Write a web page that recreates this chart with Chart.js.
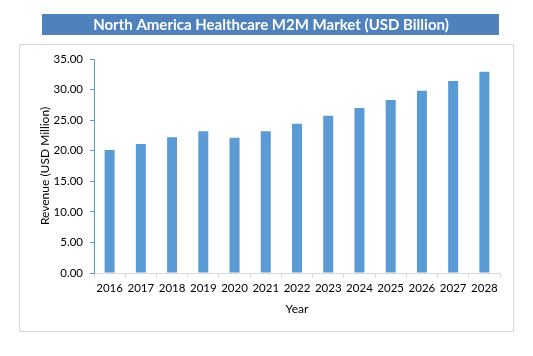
<!DOCTYPE html>
<html>
<head>
<meta charset="utf-8">
<script src="https://cdn.jsdelivr.net/npm/chart.js@4"></script>
<style>
html,body{margin:0;padding:0;background:#fff;}
#wrap{position:relative;width:533px;height:356px;}
</style>
</head>
<body>
<div id="wrap"><canvas id="c" width="533" height="356"></canvas></div>
<script>
const chartTitle = "North America Healthcare M2M Market (USD Billion)";
const years = ["2016","2017","2018","2019","2020","2021","2022","2023","2024","2025","2026","2027","2028"];
const revenue = [20.1, 21.1, 22.2, 23.2, 22.1, 23.2, 24.4, 25.7, 27.0, 28.3, 29.8, 31.4, 32.9];
const yTitle = "Revenue (USD Million)";
const xTitle = "Year";

const FONT = "Lato, 'Open Sans', sans-serif";

const framePlugin = {
  id: 'frame',
  beforeDraw(chart) {
    const ctx = chart.ctx;
    ctx.save();
    ctx.fillStyle = '#fff';
    ctx.fillRect(0, 0, chart.width, chart.height);
    // title box
    ctx.fillStyle = '#4f81bd';
    ctx.fillRect(42, 14, 457, 21);
    ctx.fillStyle = '#fff';
    ctx.font = "bold 15px " + FONT;
    ctx.textAlign = 'center';
    ctx.textBaseline = 'middle';
    ctx.fillText(chartTitle, 271, 25);
    // chart border
    ctx.strokeStyle = '#d9d9d9';
    ctx.lineWidth = 1;
    ctx.strokeRect(19.5, 44.5, 494, 287);
    ctx.restore();
  }
};

new Chart(document.getElementById('c'), {
  type: 'bar',
  data: {
    labels: years,
    datasets: [{
      data: revenue,
      backgroundColor: '#5b9bd5',
      borderWidth: 0,
      barPercentage: 0.32,
      categoryPercentage: 1.0
    }]
  },
  options: {
    responsive: false,
    animation: false,
    devicePixelRatio: 1,
    layout: { padding: { top: 59, right: 33, bottom: 36, left: 34 } },
    plugins: { legend: { display: false }, tooltip: { enabled: false }, title: { display: false } },
    scales: {
      x: {
        afterFit(s) { s.height = 47; },
        grid: { display: true, drawOnChartArea: false, drawTicks: true, tickLength: 5, color: '#d9d9d9', offset: true },
        border: { display: true, color: '#d9d9d9', width: 1 },
        ticks: { color: '#000', font: { family: FONT, size: 11.5 }, padding: 3, maxRotation: 0, autoSkip: false },
        title: { display: true, text: xTitle, color: '#000', font: { family: FONT, size: 12 }, padding: { top: 4, bottom: 4 } }
      },
      y: {
        min: 0, max: 35,
        afterFit(s) { s.width = 60; },
        grid: { display: true, drawOnChartArea: false, drawTicks: true, tickLength: 4, color: '#5b9bd5' },
        border: { display: true, color: '#5b9bd5', width: 1 },
        ticks: { stepSize: 5, color: '#000', font: { family: FONT, size: 11.5 }, padding: 7,
                 callback: v => Number(v).toFixed(2) },
        title: { display: true, text: yTitle, color: '#000', font: { family: FONT, size: 12 }, padding: { top: 4, bottom: 4 } }
      }
    }
  },
  plugins: [framePlugin]
});
</script>
</body>
</html>
